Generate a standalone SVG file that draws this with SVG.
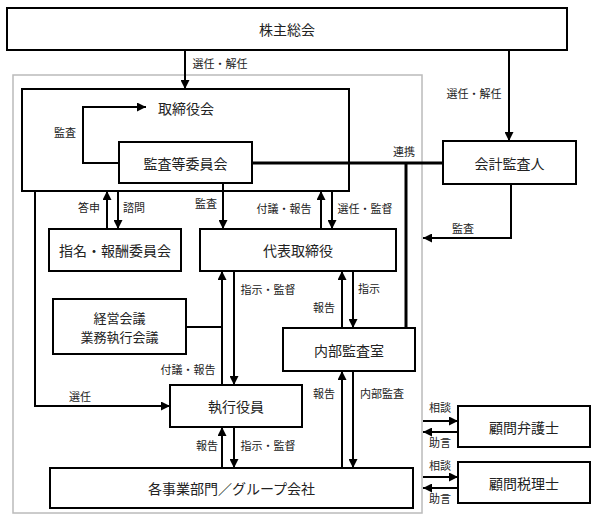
<svg xmlns="http://www.w3.org/2000/svg" width="597" height="521" viewBox="0 0 597 521">
<defs>
<marker id="ah" viewBox="0 0 10 10" refX="10" refY="5" markerWidth="9" markerHeight="9" markerUnits="userSpaceOnUse" orient="auto"><path d="M0,0 L10,5 L0,10 z" fill="#000"/></marker>
<style>
.box{fill:#fff;stroke:#000;stroke-width:2}
.t{font-family:"Noto Sans CJK JP","Noto Sans CJK SC",sans-serif;font-size:14px;text-anchor:middle;dominant-baseline:central;fill:#222}
.t2{font-size:13px}
.l{font-family:"Noto Sans CJK JP","Noto Sans CJK SC",sans-serif;font-size:11px;text-anchor:middle;dominant-baseline:central;fill:#222}
.c{fill:none;stroke:#000;stroke-width:2}
.a{fill:none;stroke:#000;stroke-width:2;marker-end:url(#ah)}
.k{fill:none;stroke:#000;stroke-width:3}
</style>
</defs>
<rect width="597" height="521" fill="#fff"/>
<rect x="13" y="75" width="409" height="438" fill="none" stroke="#bbb" stroke-width="1.5"/>

<g id="torishimariyakukai"><rect class="box" x="22" y="89" width="327" height="102"/><text class="t" x="186" y="108">取締役会</text></g>
<g id="kabunushi"><rect class="box" x="7" y="8" width="560" height="42"/><text class="t" x="287" y="29">株主総会</text></g>
<g id="kansatou"><rect class="box" x="119" y="142" width="133" height="41"/><text class="t" x="185.5" y="162.5">監査等委員会</text></g>
<g id="kaikei"><rect class="box" x="443" y="141" width="133" height="43"/><text class="t" x="509.5" y="162.5">会計監査人</text></g>
<g id="shimei"><rect class="box" x="49" y="229" width="132" height="42"/><text class="t" x="115" y="250">指名・報酬委員会</text></g>
<g id="daihyo"><rect class="box" x="200" y="229" width="196" height="42"/><text class="t" x="298" y="250">代表取締役</text></g>
<g id="keiei"><rect class="box" x="53" y="299" width="133" height="55"/><text class="t t2" x="119.5" y="317">経営会議</text><text class="t t2" x="119.5" y="336.5">業務執行会議</text></g>
<g id="naibu"><rect class="box" x="283" y="328" width="132" height="43"/><text class="t" x="349" y="349.5">内部監査室</text></g>
<g id="shikkou"><rect class="box" x="170" y="385" width="132" height="42"/><text class="t" x="236" y="406">執行役員</text></g>
<g id="jigyo"><rect class="box" x="50" y="468" width="363" height="40"/><text class="t" x="231.5" y="488">各事業部門／グループ会社</text></g>
<g id="bengoshi"><rect class="box" x="458" y="406" width="132" height="41"/><text class="t" x="524" y="426.5">顧問弁護士</text></g>
<g id="zeirishi"><rect class="box" x="458" y="462" width="132" height="41"/><text class="t" x="524" y="482.5">顧問税理士</text></g>

<g id="connectors">
<path class="a" d="M185,50 V89"/>
<path class="a" d="M509,50 V141"/>
<path class="a" d="M119,163 H83 V107 H146"/>
<path class="k" d="M252,163 H443"/>
<path class="k" d="M406,163 V328"/>
<path class="a" d="M511,184 V238 H423"/>
<path class="a" d="M107,229 V191"/>
<path class="a" d="M118,191 V229"/>
<path class="a" d="M223,183 V229"/>
<path class="a" d="M321,229 V191"/>
<path class="a" d="M332,191 V229"/>
<path class="a" d="M35,191 V406 H170"/>
<path class="c" d="M186,327 H222"/>
<path class="a" d="M222,385 V271"/>
<path class="a" d="M234,271 V385"/>
<path class="a" d="M222,468 V427"/>
<path class="a" d="M234,427 V468"/>
<path class="a" d="M342,328 V271"/>
<path class="a" d="M353,271 V328"/>
<path class="a" d="M342,468 V371"/>
<path class="a" d="M353,371 V468"/>
<path class="a" d="M423,421 H458"/>
<path class="a" d="M458,432 H423"/>
<path class="a" d="M423,477 H458"/>
<path class="a" d="M458,488 H423"/>
</g>

<g id="labels">
<text class="l" x="220" y="63">選任・解任</text>
<text class="l" x="474" y="93">選任・解任</text>
<text class="l" x="65" y="132">監査</text>
<text class="l" x="404" y="151">連携</text>
<text class="l" x="463" y="228">監査</text>
<text class="l" x="89" y="207">答申</text>
<text class="l" x="134" y="207">諮問</text>
<text class="l" x="206" y="203">監査</text>
<text class="l" x="284" y="208">付議・報告</text>
<text class="l" x="365" y="208">選任・監督</text>
<text class="l" x="268" y="289">指示・監督</text>
<text class="l" x="188" y="369">付議・報告</text>
<text class="l" x="80" y="396">選任</text>
<text class="l" x="207" y="445">報告</text>
<text class="l" x="268" y="445">指示・監督</text>
<text class="l" x="324" y="307">報告</text>
<text class="l" x="369" y="288">指示</text>
<text class="l" x="324" y="393">報告</text>
<text class="l" x="382" y="393">内部監査</text>
<text class="l" x="440" y="407">相談</text>
<text class="l" x="440" y="442">助言</text>
<text class="l" x="440" y="465">相談</text>
<text class="l" x="440" y="498">助言</text>
</g>
</svg>
